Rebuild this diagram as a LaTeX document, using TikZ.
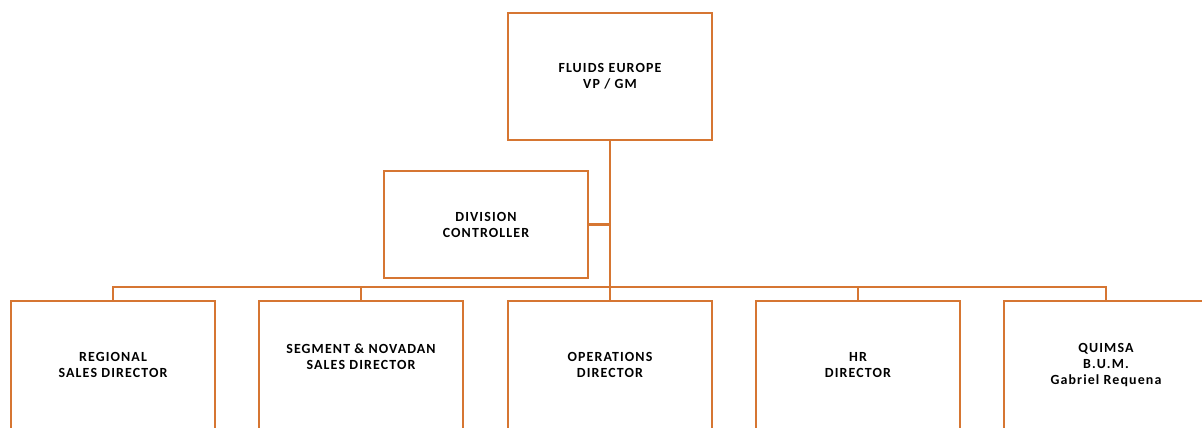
\documentclass[tikz,border=0pt]{standalone}
\usepackage{fontspec}
\setmainfont{Carlito}[LetterSpace=8]
\usetikzlibrary{calc}
\definecolor{boxline}{RGB}{214,118,50}

\begin{document}
\begin{tikzpicture}[x=1bp,y=-1bp,
	orgbox/.style={draw=boxline,line width=2.5bp,minimum width=204bp,inner sep=0pt,align=center,
		font=\fontsize{14}{16}\selectfont\bfseries},
	link/.style={draw=boxline,line width=2.5bp}]
	\useasboundingbox (0,0) rectangle (1202,427);
	\node[orgbox,minimum height=127bp] (vp) at (610,76.5) {FLUIDS EUROPE\\VP / GM};
	\node[orgbox,minimum height=107bp] (ctrl) at (486,224.5) {DIVISION\\CONTROLLER};
	\coordinate (bus) at (610,287);
	% directors
	\node[orgbox,minimum height=128bp] (sales) at (113,365) {REGIONAL\\SALES DIRECTOR};
	\node[orgbox,minimum height=128bp] (segment) at (361,365) {SEGMENT \& NOVADAN\\SALES DIRECTOR\\~};
	\node[orgbox,minimum height=128bp] (ops) at (610,365) {OPERATIONS\\DIRECTOR};
	\node[orgbox,minimum height=128bp] (hr) at (858,365) {HR\\DIRECTOR};
	\node[orgbox,minimum height=128bp] (quimsa) at (1106,365) {QUIMSA\\B.U.M.\\Gabriel Requena};
	\draw[link] (vp.south) -- (ops.north);
	\draw[link] (ctrl.east) -- (ctrl.east -| vp.south);
	\draw[link] (sales.north) |- (bus) -| (quimsa.north);
	\draw[link] (segment.north) -- (segment.north |- bus);
	\draw[link] (hr.north) -- (hr.north |- bus);
\end{tikzpicture}
\end{document}
